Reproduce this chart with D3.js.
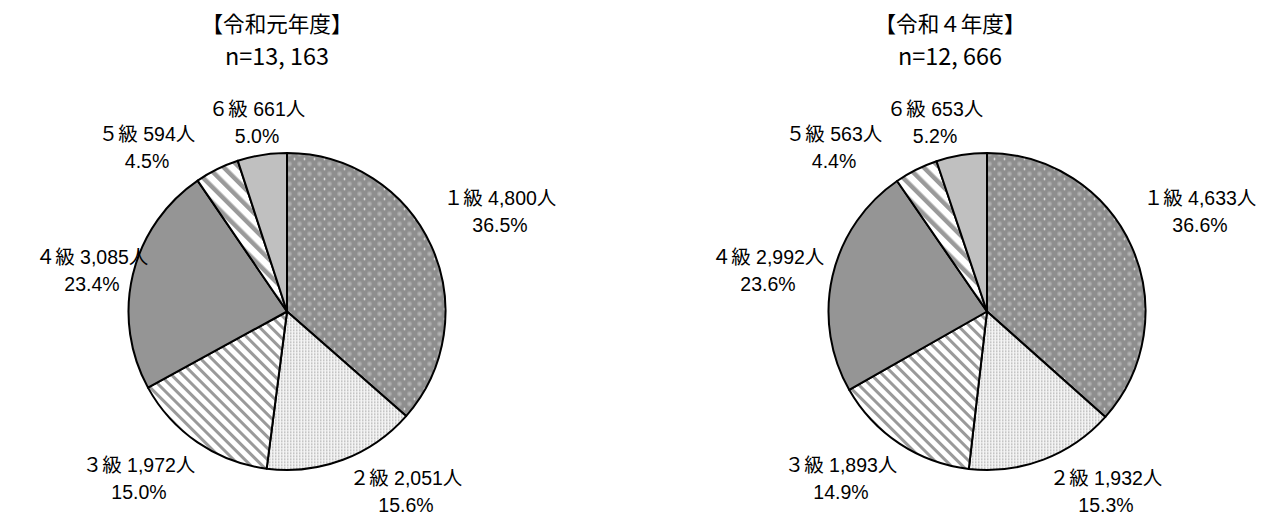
<!DOCTYPE html>
<html>
<head>
<meta charset="utf-8">
<script src="https://cdn.jsdelivr.net/npm/d3@7"></script>
<style>
  body { margin: 0; background: #fff; }
  text { font-family: 'Liberation Sans', 'Noto Sans CJK JP', sans-serif; fill: #000; }
  text.title { font-family: 'Noto Sans CJK JP', sans-serif; }
</style>
</head>
<body>
<svg width="1268" height="515"></svg>
<script>
  // data
  const grades = ['１級', '２級', '３級', '４級', '５級', '６級'];
  const countsR1 = [4800, 2051, 1972, 3085, 594, 661];
  const sharesR1 = [36.5, 15.6, 15.0, 23.4, 4.5, 5.0];
  const countsR4 = [4633, 1932, 1893, 2992, 563, 653];
  const sharesR4 = [36.6, 15.3, 14.9, 23.6, 4.4, 5.2];
  const titles = ['【令和元年度】', '【令和４年度】'];
  const totals = ['n=13, 163', 'n=12, 666'];

  const svg = d3.select('svg');
  const width = +svg.attr('width');
  const height = +svg.attr('height');

  // fill per grade (pattern ids)
  const fills = ['url(#p1)', 'url(#p2)', 'url(#p3)', '#959595', 'url(#p5)', '#c0c0c0'];

  const defs = svg.append('defs');

  // 1級: mid gray with soft light circles + white dots
  const p1 = defs.append('pattern').attr('id', 'p1')
    .attr('patternUnits', 'userSpaceOnUse').attr('width', 10).attr('height', 10);
  p1.append('rect').attr('width', 10).attr('height', 10).attr('fill', '#8e8e8e');
  p1.append('circle').attr('cx', 2.5).attr('cy', 2.5).attr('r', 2.4).attr('fill', '#a6a6a6');
  p1.append('circle').attr('cx', 2.5).attr('cy', 2.5).attr('r', 1.1).attr('fill', '#b8b8b8');
  p1.append('circle').attr('cx', 7.5).attr('cy', 7.5).attr('r', 0.9).attr('fill', '#ffffff');

  // 2級: white with fine gray dots
  const p2 = defs.append('pattern').attr('id', 'p2')
    .attr('patternUnits', 'userSpaceOnUse').attr('width', 3).attr('height', 3);
  p2.append('rect').attr('width', 3).attr('height', 3).attr('fill', '#f4f4f4');
  p2.append('rect').attr('width', 1.5).attr('height', 1.5).attr('fill', '#b4b4b4');

  // 3級 / 5級: downward diagonal stripes
  const stripe = (id, size, w) => {
    const p = defs.append('pattern').attr('id', id)
      .attr('patternUnits', 'userSpaceOnUse')
      .attr('width', size).attr('height', size)
      .attr('patternTransform', 'rotate(-45)');
    p.append('rect').attr('width', size).attr('height', size).attr('fill', '#ffffff');
    p.append('rect').attr('width', w).attr('height', size).attr('fill', '#9a9a9a');
  };
  stripe('p3', 8, 3);
  stripe('p5', 11, 4.5);

  const radius = 158.5;
  const centers = [[287, 311.5], [987, 311.5]];
  const titleX = [277, 950];

  // label anchor offsets from each pie centre
  const labelOffsets = [
    [[213, -100], [119, 180], [-148, 167], [-195, -41], [-140, -164], [-30, -189]],
    [[213, -100], [119, 180], [-146, 167], [-219, -41], [-153, -164], [-52, -189]]
  ];

  const pie = d3.pie().sort(null).value(d => d.count);
  const arc = d3.arc().innerRadius(0).outerRadius(radius);
  const fmt = d3.format(',');

  const render = (counts, shares, i) => {
    const data = grades.map((g, k) => ({ grade: g, count: counts[k], share: shares[k], k }));
    const [cx, cy] = centers[i];
    const g = svg.append('g').attr('transform', `translate(${cx},${cy})`);

    g.selectAll('path').data(pie(data))
      .enter().append('path')
        .attr('d', arc)
        .attr('fill', d => fills[d.data.k])
        .attr('stroke', '#000')
        .attr('stroke-width', 2)
        .attr('stroke-linejoin', 'round');

    const lab = g.selectAll('g.lab').data(data)
      .enter().append('g')
        .attr('class', 'lab')
        .attr('transform', d => `translate(${labelOffsets[i][d.k][0]},${labelOffsets[i][d.k][1]})`);
    lab.append('text')
        .attr('text-anchor', 'middle')
        .attr('y', -6.5)
        .attr('font-size', 19.5)
        .text(d => `${d.grade} ${fmt(d.count)}人`);
    lab.append('text')
        .attr('text-anchor', 'middle')
        .attr('y', 20.5)
        .attr('font-size', 19.5)
        .text(d => `${d.share.toFixed(1)}%`);

    // titles
    svg.append('text')
        .attr('class', 'title')
        .attr('x', titleX[i]).attr('y', 32)
        .attr('text-anchor', 'middle')
        .attr('font-size', 22)
        .attr('textLength', 151)
        .attr('lengthAdjust', 'spacingAndGlyphs')
        .text(titles[i]);
    svg.append('text')
        .attr('class', 'title')
        .attr('x', titleX[i]).attr('y', 65)
        .attr('text-anchor', 'middle')
        .attr('font-size', 24)
        .attr('textLength', 104)
        .attr('lengthAdjust', 'spacingAndGlyphs')
        .text(totals[i]);
  };

  render(countsR1, sharesR1, 0);
  render(countsR4, sharesR4, 1);
</script>
</body>
</html>
